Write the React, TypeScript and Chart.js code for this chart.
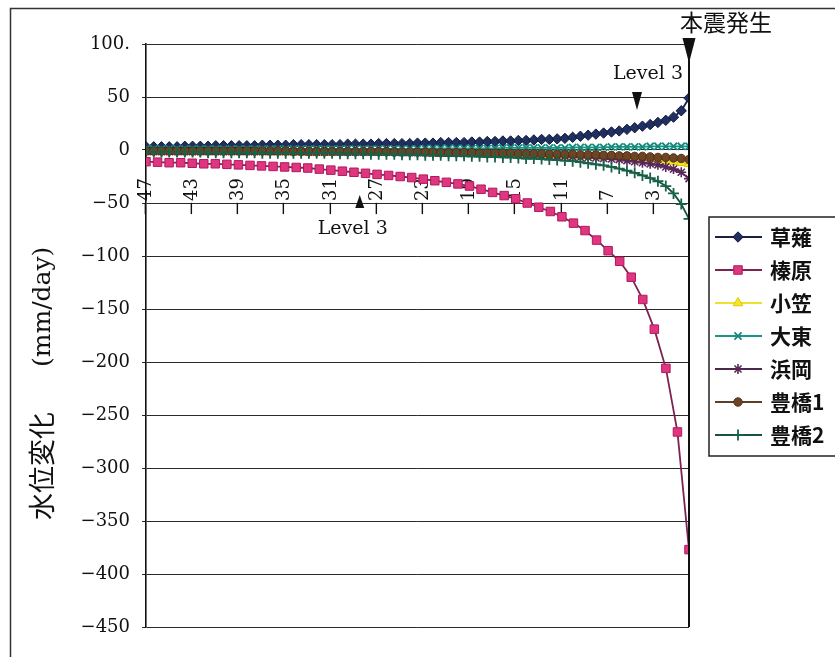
import React, { useEffect, useRef } from 'react';
import { Chart, registerables } from 'chart.js';
import { drawPoint } from 'chart.js/helpers';

Chart.register(...registerables);

// ---- categories / tick labels ----
const SERIES_NAMES = ['草薙', '榛原', '小笠', '大東', '浜岡', '豊橋1', '豊橋2'];
const X_TICKS = [-47, -43, -39, -35, -31, -27, -23, -19, -15, -11, -7, -3];
const X_MIN = -47;
const X_MAX = 0;
const Y_MIN = -450;
const Y_MAX = 100;
const Y_STEP = 50;
const X_AXIS_CROSS = -50;
const Y_TITLE_JA = '水位変化';
const Y_TITLE_UNIT = '(mm/day)';
const MAIN_SHOCK_LABEL = '本震発生';
const MAIN_SHOCK_DAY = 0;
const LEVEL_LABEL = 'Level 3';
const LEVEL3_UPPER_DAY = -4.5;
const LEVEL3_UPPER_VALUE = 50;
const LEVEL3_LOWER_DAY = -28.5;

// daily sampling (榛原)
const DAYS_DAILY = [
  -47, -46, -45, -44, -43, -42, -41, -40, -39, -38, -37, -36, -35, -34, -33, -32,
  -31, -30, -29, -28, -27, -26, -25, -24, -23, -22, -21, -20, -19, -18, -17, -16,
  -15, -14, -13, -12, -11, -10, -9, -8, -7, -6, -5, -4, -3, -2, -1, 0,
];

// finer sampling (other stations)
const TIME_FINE = [
  -47.0, -46.33, -45.66, -44.99, -44.31, -43.64, -42.97, -42.3, -41.63, -40.96, -40.29,
  -39.61, -38.94, -38.27, -37.6, -36.93, -36.26, -35.59, -34.91, -34.24, -33.57,
  -32.9, -32.23, -31.56, -30.89, -30.21, -29.54, -28.87, -28.2, -27.53, -26.86,
  -26.19, -25.51, -24.84, -24.17, -23.5, -22.83, -22.16, -21.49, -20.81, -20.14,
  -19.47, -18.8, -18.13, -17.46, -16.79, -16.11, -15.44, -14.77, -14.1, -13.43,
  -12.76, -12.09, -11.41, -10.74, -10.07, -9.4, -8.73, -8.06, -7.39, -6.71,
  -6.04, -5.37, -4.7, -4.03, -3.36, -2.69, -2.01, -1.34, -0.67, 0,
];

const KUSANAGI = [
  3, 3, 3, 3, 3, 3.5, 3.5, 3.5, 3.5, 4, 4,
  4, 4, 4, 4, 4.5, 4.5, 4.5, 4.5, 5, 5,
  5, 5, 5, 5, 5, 5.5, 5.5, 5.5, 5.5, 6,
  6, 6, 6, 6, 6.5, 6.5, 6.5, 7, 7, 7,
  7, 7.5, 7.5, 8, 8, 8.5, 8.5, 9, 9, 9.5,
  10, 10, 10.5, 11, 12, 13, 14, 15, 16, 17,
  18, 19.5, 21, 22.5, 24, 26, 28, 31, 37, 49,
];

const HAIBARA = [
  -11, -11.5, -12, -12, -12.5, -13, -13, -13.5, -14, -14.5, -15, -15.5, -16, -16.5, -17, -18,
  -19, -20, -21, -22, -23, -24, -25, -26, -27.5, -29, -30.5, -32, -34, -37, -40, -43,
  -46, -50, -54, -58, -63, -69, -76, -85, -95, -105, -120, -141, -169, -206, -266, -377,
];

const OGASA = [
  -1.5, -1.5, -1.5, -1.5, -1.5, -1.5, -1.5, -1.5, -1.5, -1.5, -1.5,
  -1.5, -1.5, -1.5, -1.5, -1.5, -2, -2, -2, -2, -2,
  -2, -2, -2, -2, -2, -2, -2, -2, -2, -2,
  -2, -2, -2.5, -2.5, -2.5, -2.5, -2.5, -3, -3, -3,
  -3, -3, -3.5, -3.5, -3.5, -3.5, -4, -4, -4, -4,
  -4.5, -4.5, -4.5, -5, -5, -5, -5.5, -5.5, -6, -6,
  -6.5, -7, -7.5, -8, -8.5, -9, -10, -11, -12, -13,
];

const DAITO = [
  1, 1, 1, 1, 1, 1, 1, 1, 1, 1, 1,
  1, 1, 1, 1, 1, 1, 1, 1, 1, 1,
  1, 1, 1, 1, 1, 1, 1, 1, 1, 1,
  1, 1, 1, 1, 1, 1.5, 1.5, 1.5, 1.5, 1.5,
  1.5, 1.5, 1.5, 1.5, 1.5, 2, 2, 2, 2, 2,
  2, 2, 2, 2, 2.5, 2.5, 2.5, 2.5, 2.5, 3,
  3, 3, 3, 3, 3.5, 3.5, 3.5, 3.5, 3.5, 3.5,
];

const HAMAOKA = [
  -1.5, -1.5, -1.5, -1.5, -1.5, -1.5, -1.5, -1.5, -1.5, -1.5, -1.5,
  -1.5, -1.5, -1.5, -1.5, -1.5, -1.5, -1.5, -1.5, -1.5, -1.5,
  -2, -2, -2, -2, -2, -2, -2, -2, -2, -2,
  -2, -2, -2.5, -2.5, -2.5, -2.5, -3, -3, -3, -3,
  -3.5, -3.5, -3.5, -4, -4, -4, -4.5, -4.5, -5, -5,
  -5.5, -5.5, -6, -6, -6.5, -7, -7, -7.5, -8, -8.5,
  -9, -10, -11, -12, -13, -14, -16, -18, -21, -27,
];

const TOYOHASHI1 = [
  -1, -1, -1, -1, -1, -1, -1, -1, -1, -1, -1,
  -1, -1, -1, -1, -1, -1, -1, -1, -1.5, -1.5,
  -1.5, -1.5, -1.5, -1.5, -1.5, -1.5, -1.5, -1.5, -1.5, -1.5,
  -1.5, -2, -2, -2, -2, -2, -2, -2.5, -2.5, -2.5,
  -2.5, -2.5, -3, -3, -3, -3, -3, -3.5, -3.5, -3.5,
  -3.5, -4, -4, -4, -4, -4.5, -4.5, -4.5, -5, -5,
  -5.5, -5.5, -6, -6, -6.5, -7, -7, -7.5, -8, -9,
];

const TOYOHASHI2 = [
  -2, -2, -2, -2, -2, -2, -2, -2, -2.5, -2.5, -2.5,
  -2.5, -2.5, -2.5, -2.5, -3, -3, -3, -3, -3, -3,
  -3, -3, -3, -3, -3.5, -3.5, -3.5, -3.5, -4, -4,
  -4, -4, -4.5, -4.5, -4.5, -5, -5, -5, -5.5, -5.5,
  -5.5, -6, -6, -6.5, -6.5, -7, -7, -7.5, -8, -8,
  -8.5, -9, -9.5, -10, -10.5, -11.5, -12.5, -13.5, -14.5, -16,
  -17.5, -19.5, -21.5, -24, -26.5, -29.5, -34, -41, -51, -65,
];

// ---- styles ----
const STYLES = [
  { line: '#1a2244', fill: '#1f2f60', border: '#111a3e', pointStyle: 'rectRot', radius: 5.2, bw: 1 },
  { line: '#7d2350', fill: '#e03580', border: '#b01a5c', pointStyle: 'rect', radius: 6, bw: 1 },
  { line: '#ece22a', fill: '#f5e52a', border: '#e0c800', pointStyle: 'triangle', radius: 5.5, bw: 1 },
  { line: '#18958a', fill: '#1fb8aa', border: '#138a7c', pointStyle: 'crossRot', radius: 5, bw: 1.8 },
  { line: '#4a2a48', fill: '#6b2f6b', border: '#5a275a', pointStyle: 'star', radius: 5, bw: 1.6 },
  { line: '#5e3f28', fill: '#6e4424', border: '#4e3018', pointStyle: 'circle', radius: 4.2, bw: 1 },
  { line: '#17523f', fill: '#186248', border: '#186248', pointStyle: 'cross', radius: 5.5, bw: 1.8 },
];

const SERIF = '"DejaVu Serif", serif';
const CJK = '"Noto Sans CJK JP", sans-serif';

const fmt = (v: number) => (v < 0 ? '\u2212' + Math.abs(v) : String(v));

function tri(ctx: CanvasRenderingContext2D, x: number, yBase: number, yTip: number, half: number) {
  ctx.beginPath();
  ctx.moveTo(x - half, yBase);
  ctx.lineTo(x + half, yBase);
  ctx.lineTo(x, yTip);
  ctx.closePath();
  ctx.fill();
}

const framePlugin = {
  id: 'frame',
  afterDraw(chart: any) {
    const { ctx, chartArea } = chart;
    ctx.save();
    ctx.strokeStyle = '#333';
    ctx.lineWidth = 1.5;
    ctx.beginPath();
    ctx.moveTo(835, 8.5);
    ctx.lineTo(10.5, 8.5);
    ctx.lineTo(10.5, 657);
    ctx.stroke();
    // right border of plot area
    ctx.strokeStyle = '#111';
    ctx.lineWidth = 2;
    ctx.beginPath();
    ctx.moveTo(chartArea.right, chartArea.top);
    ctx.lineTo(chartArea.right, chartArea.bottom);
    ctx.stroke();
    ctx.restore();
  },
};

const xLabelsPlugin = {
  id: 'xLabels',
  beforeDatasetsDraw(chart: any) {
    const { ctx } = chart;
    const x = chart.scales.x;
    const y = chart.scales.y;
    const base = y.getPixelForValue(X_AXIS_CROSS) + 13;
    ctx.save();
    ctx.fillStyle = '#111';
    ctx.font = `18px ${SERIF}`;
    ctx.textAlign = 'left';
    ctx.textBaseline = 'middle';
    X_TICKS.forEach((v) => {
      const px = x.getPixelForValue(v);
      ctx.save();
      ctx.translate(px, base);
      ctx.rotate(-Math.PI / 2);
      ctx.fillText(fmt(v), 0, 0);
      ctx.restore();
    });
    ctx.restore();
  },
};

const annotPlugin = {
  id: 'annot',
  afterDatasetsDraw(chart: any) {
    const { ctx, chartArea } = chart;
    const x = chart.scales.x;
    const y = chart.scales.y;
    ctx.save();
    ctx.fillStyle = '#111';
    // main shock marker
    const xm = x.getPixelForValue(MAIN_SHOCK_DAY);
    tri(ctx, xm, chartArea.top - 6, chartArea.top + 19, 6.5);
    ctx.font = `23px ${CJK}`;
    ctx.textAlign = 'left';
    ctx.textBaseline = 'middle';
    ctx.fillText(MAIN_SHOCK_LABEL, xm - 9, chartArea.top - 22);
    // upper Level 3
    const xu = x.getPixelForValue(LEVEL3_UPPER_DAY);
    const yu = y.getPixelForValue(LEVEL3_UPPER_VALUE);
    tri(ctx, xu, yu - 5, yu + 13, 5);
    ctx.font = `19px ${SERIF}`;
    ctx.textAlign = 'right';
    ctx.fillText(LEVEL_LABEL, xm - 6, yu - 23);
    // lower Level 3
    const xl = x.getPixelForValue(LEVEL3_LOWER_DAY);
    const yl = y.getPixelForValue(X_AXIS_CROSS);
    tri(ctx, xl, yl + 5, yl - 8, 4.5);
    ctx.textAlign = 'center';
    ctx.fillText(LEVEL_LABEL, xl - 7, yl + 26);
    ctx.restore();
  },
};

const titlePlugin = {
  id: 'yTitle',
  afterDraw(chart: any) {
    const { ctx } = chart;
    ctx.save();
    ctx.fillStyle = '#111';
    ctx.translate(42, 520);
    ctx.rotate(-Math.PI / 2);
    ctx.textAlign = 'left';
    ctx.textBaseline = 'middle';
    ctx.font = `27px ${CJK}`;
    ctx.fillText(Y_TITLE_JA, 0, 0);
    ctx.font = `25px ${SERIF}`;
    ctx.fillText(Y_TITLE_UNIT, 153, 1);
    ctx.restore();
  },
};

const legendPlugin = {
  id: 'boxLegend',
  afterDraw(chart: any) {
    const { ctx, chartArea } = chart;
    const left = chartArea.right + 20;
    const top = 217;
    const bottom = 456;
    ctx.save();
    ctx.strokeStyle = '#222';
    ctx.lineWidth = 1.5;
    ctx.beginPath();
    ctx.moveTo(850, top);
    ctx.lineTo(left, top);
    ctx.lineTo(left, bottom);
    ctx.lineTo(850, bottom);
    ctx.stroke();
    chart.data.datasets.forEach((ds: any, k: number) => {
      const st = STYLES[k];
      const cy = 237 + k * 33;
      ctx.strokeStyle = st.line;
      ctx.lineWidth = 2;
      ctx.beginPath();
      ctx.moveTo(left + 6, cy);
      ctx.lineTo(left + 53, cy);
      ctx.stroke();
      ctx.fillStyle = st.fill;
      ctx.strokeStyle = st.border;
      ctx.lineWidth = st.bw;
      drawPoint(ctx, { pointStyle: st.pointStyle, radius: st.radius, borderWidth: st.bw, rotation: 0 } as any, left + 29, cy);
      ctx.fillStyle = '#111';
      ctx.font = `bold 21px ${CJK}`;
      ctx.textAlign = 'left';
      ctx.textBaseline = 'middle';
      ctx.fillText(ds.label, left + 61, cy);
    });
    ctx.restore();
  },
};

const FINE_SERIES = [KUSANAGI, null, OGASA, DAITO, HAMAOKA, TOYOHASHI1, TOYOHASHI2];

export default function App() {
  const ref = useRef<HTMLCanvasElement>(null);
  useEffect(() => {
    if (!ref.current) return;
    const datasets = SERIES_NAMES.map((name, k) => {
      const st = STYLES[k];
      const data =
        k === 1
          ? DAYS_DAILY.map((d, i) => ({ x: d, y: HAIBARA[i] }))
          : TIME_FINE.map((t, i) => ({ x: t, y: (FINE_SERIES[k] as number[])[i] }));
      return {
        label: name,
        data,
        borderColor: st.line,
        backgroundColor: st.fill,
        borderWidth: 1.8,
        pointStyle: st.pointStyle,
        pointRadius: st.radius,
        pointBackgroundColor: st.fill,
        pointBorderColor: st.border,
        pointBorderWidth: st.bw,
        tension: 0,
        order: SERIES_NAMES.length - k,
      };
    });
    const chart = new Chart(ref.current, {
      type: 'line',
      data: { datasets } as any,
      options: {
        animation: false,
        responsive: true,
        maintainAspectRatio: false,
        layout: { padding: { left: 60, right: 146, top: 44, bottom: 30 } },
        plugins: { legend: { display: false }, tooltip: { enabled: false } },
        scales: {
          x: {
            type: 'linear',
            min: X_MIN,
            max: X_MAX,
            display: false,
          },
          y: {
            min: Y_MIN,
            max: Y_MAX,
            afterFit: (s: any) => {
              s.width = 86;
            },
            ticks: {
              stepSize: Y_STEP,
              color: '#111',
              padding: 12,
              font: { family: SERIF, size: 18 },
              callback: (v: any) => (v === Y_MAX ? Y_MAX + '.' : fmt(Number(v))),
            },
            grid: { color: '#2a2a2a', lineWidth: 1, tickLength: 4 },
            border: { color: '#111', width: 1.6 },
          },
        },
      } as any,
      plugins: [framePlugin, xLabelsPlugin, annotPlugin, titlePlugin, legendPlugin],
    });
    return () => chart.destroy();
  }, []);
  return (
    <div style={{ position: 'fixed', left: 0, top: 0, width: 835, height: 657, background: '#fff' }}>
      <canvas ref={ref} />
    </div>
  );
}
